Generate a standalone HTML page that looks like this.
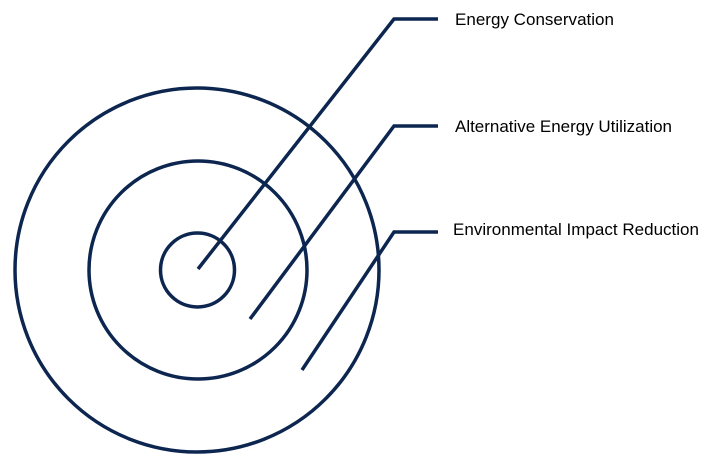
<!DOCTYPE html>
<html><head><style>html,body{margin:0;padding:0;background:#fff;}</style></head>
<body>
<svg width="718" height="461" viewBox="0 0 718 461" xmlns="http://www.w3.org/2000/svg">
<g fill="none" stroke="#0c2650" stroke-width="3.5">
<circle cx="197" cy="270" r="182"/>
<circle cx="198" cy="270" r="109"/>
<circle cx="197.5" cy="270" r="37"/>
<polyline points="198,269 394,19 438,19"/>
<polyline points="250,319 394,126 438,126"/>
<polyline points="302,370 394,232 438,232"/>
</g>
<g font-family="Liberation Sans, sans-serif" font-size="17" fill="#000" textLength="">
<text x="455" y="25" textLength="159">Energy Conservation</text>
<text x="455" y="132" textLength="217">Alternative Energy Utilization</text>
<text x="453" y="235" textLength="246">Environmental Impact Reduction</text>
</g>
</svg>
</body></html>
